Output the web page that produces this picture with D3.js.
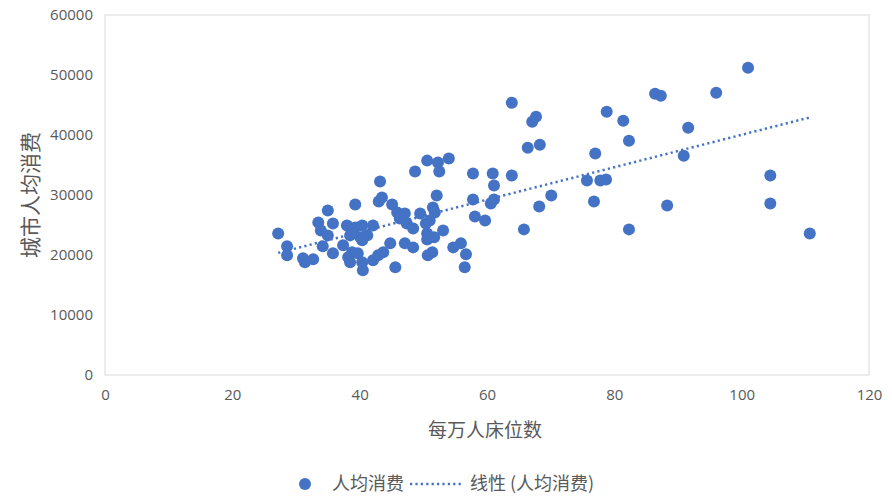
<!DOCTYPE html>
<html lang="zh">
<head>
<meta charset="UTF-8">
<title>每万人床位数与城市人均消费</title>
<script src="https://d3js.org/d3.v7.min.js"></script>
<style>
    body { margin: 0; background: #fff; }
    .tick text { font-family: "Open Sans", "Liberation Sans", sans-serif; font-size: 15px; fill: #595959; }
    .axis-title { font-family: "Noto Sans CJK SC", sans-serif; font-size: 19px; fill: #595959; }
    .legend text { font-family: "Noto Sans CJK SC", sans-serif; font-size: 18px; fill: #595959; }
</style>
</head>
<body>
<div id="chart"></div>
<script>
// 每万人床位数 (x) and 城市人均消费 (y)
const beds = [
    27.2, 28.6, 28.6, 31.1, 31.4, 32.7, 33.5, 33.9, 34.2, 35.0,
    35.0, 35.8, 35.8, 37.4, 38.0, 38.2, 38.5, 38.5, 38.8, 39.3,
    39.3, 39.7, 40.1, 40.4, 40.4, 40.4, 40.5, 41.2, 42.1, 42.1,
    42.9, 43.0, 43.2, 43.5, 43.7, 44.8, 45.1, 45.6, 45.9, 46.3,
    47.1, 47.1, 47.4, 48.4, 48.4, 48.7, 49.5, 50.4, 50.6, 50.6,
    50.6, 50.7, 51.0, 51.4, 51.5, 51.7, 51.8, 52.1, 52.3, 52.5,
    53.1, 54.0, 54.7, 55.9, 56.7, 56.5, 57.8, 57.8, 58.1, 59.7,
    60.6, 60.9, 61.1, 61.1, 63.9, 63.9, 65.8, 66.4, 67.1, 67.7,
    68.3, 68.2, 70.1, 75.7, 77.0, 76.8, 77.8, 78.7, 78.8, 81.4,
    82.3, 82.3, 86.4, 87.3, 88.3, 90.9, 91.6, 96.0, 101.0, 104.5,
    104.5, 110.7
];
const spending = [
    23600, 21440, 19940, 19450, 18780, 19280, 25430, 24100, 21440, 27420,
    23270, 25260, 20280, 21610, 24930, 19610, 23270, 18780, 20440, 28420,
    24600, 20280, 22940, 24930, 22440, 18780, 17450, 23270, 24930, 19110,
    19940, 28920, 32240, 29580, 20440, 21940, 28420, 17950, 27090, 26090,
    26920, 21940, 25260, 24430, 21270, 33900, 26920, 25260, 35730, 23600,
    22600, 19940, 25760, 20440, 27920, 22940, 27090, 29920, 35400, 33900,
    24100, 36070, 21270, 21940, 20110, 17950, 33570, 29250, 26430, 25760,
    28590, 33570, 31580, 29250, 45370, 33240, 24270, 37890, 42210, 43050,
    38390, 28090, 29920, 32410, 36900, 28920, 32410, 32580, 43880, 42380,
    39060, 24270, 46870, 46540, 28250, 36560, 41220, 47030, 51190, 33240,
    28590, 23600
];
const xTicks = [0, 20, 40, 60, 80, 100, 120];
const yTicks = [0, 10000, 20000, 30000, 40000, 50000, 60000];
const xTitle = "每万人床位数";
const yTitle = "城市人均消费";
const seriesName = "人均消费";
const trendName = "线性 (人均消费)";

const W = 892, H = 500;
const margin = {top: 15, right: 23, bottom: 125, left: 105};
const width = W - margin.left - margin.right;
const height = H - margin.top - margin.bottom;
const blue = "#4472C4";

const svg = d3.select("#chart").append("svg")
    .attr("width", W)
    .attr("height", H);

const g = svg.append("g")
    .attr("transform", `translate(${margin.left},${margin.top})`);

const x = d3.scaleLinear().domain([0, 120]).range([0, width]);
const y = d3.scaleLinear().domain([0, 60000]).range([height, 0]);

// plot frame
g.append("rect")
    .attr("width", width)
    .attr("height", height)
    .attr("fill", "none")
    .attr("stroke", "#d9d9d9")
    .attr("stroke-width", 1);

const xAxis = g.append("g")
    .attr("transform", `translate(0,${height})`)
    .call(d3.axisBottom(x).tickValues(xTicks).tickSize(0).tickPadding(14));
xAxis.select(".domain").remove();

const yAxis = g.append("g")
    .call(d3.axisLeft(y).tickValues(yTicks).tickSize(0).tickPadding(12).tickFormat(d3.format("d")));
yAxis.select(".domain").remove();

// axis titles
svg.append("text")
    .attr("class", "axis-title")
    .attr("x", margin.left + x(60) - 2)
    .attr("y", 437)
    .attr("text-anchor", "middle")
    .text(xTitle);

svg.append("text")
    .attr("class", "axis-title")
    .style("font-size", "21px")
    .attr("transform", `translate(38,${margin.top + y(30000)}) rotate(-90)`)
    .attr("text-anchor", "middle")
    .text(yTitle);

// linear trend from least squares
const pts = beds.map((b, i) => ({x: b, y: spending[i]}));
const mx = d3.mean(beds), my = d3.mean(spending);
const slope = d3.sum(pts, p => (p.x - mx) * (p.y - my)) / d3.sum(pts, p => (p.x - mx) ** 2);
const icpt = my - slope * mx;
const [x0, x1] = d3.extent(beds);

g.append("line")
    .attr("x1", x(x0)).attr("y1", y(icpt + slope * x0))
    .attr("x2", x(x1)).attr("y2", y(icpt + slope * x1))
    .attr("stroke", blue)
    .attr("stroke-width", 2.5)
    .attr("stroke-dasharray", "2.2,3.2");

// points
g.append("g")
    .selectAll("circle")
    .data(pts)
    .join("circle")
        .attr("cx", d => x(d.x))
        .attr("cy", d => y(d.y))
        .attr("r", 6)
        .attr("fill", blue);

// legend
const legend = svg.append("g").attr("class", "legend")
    .attr("transform", "translate(0,484)");

legend.append("circle")
    .attr("cx", 305).attr("cy", 0).attr("r", 6)
    .attr("fill", blue);
legend.append("text")
    .attr("x", 332).attr("y", 0).attr("dy", "0.35em")
    .text(seriesName);
legend.append("line")
    .attr("x1", 410).attr("x2", 462)
    .attr("y1", 0).attr("y2", 0)
    .attr("stroke", blue)
    .attr("stroke-width", 2.5)
    .attr("stroke-dasharray", "2.2,3.2");
legend.append("text")
    .attr("x", 470).attr("y", 0).attr("dy", "0.35em")
    .text(trendName);
</script>
</body>
</html>
